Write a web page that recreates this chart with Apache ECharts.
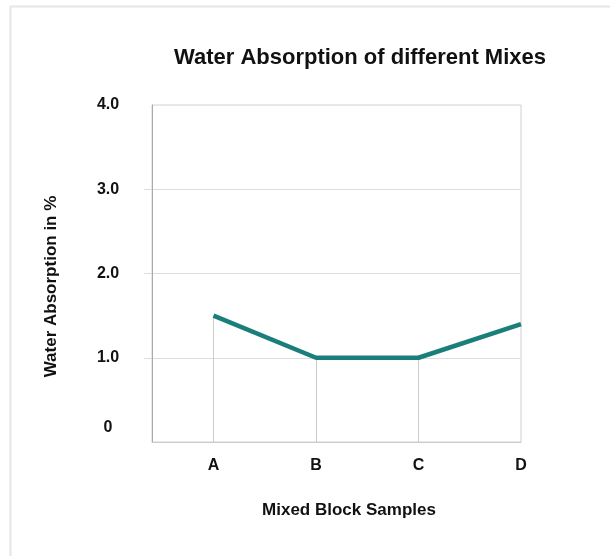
<!DOCTYPE html>
<html>
<head>
<meta charset="utf-8">
<script src="https://cdn.jsdelivr.net/npm/echarts@6/dist/echarts.min.js"></script>
<style>html,body{margin:0;padding:0;background:#fff;}#chart{width:610px;height:556px;}</style>
</head>
<body>
<div id="chart"></div>
<script>
const categories = ['A', 'B', 'C', 'D'];
const positions = [1, 2, 3, 4];
const absorption = [1.5, 1.0, 1.0, 1.4];
const yTicks = [0, 1, 2, 3, 4];

const FONT = '"Liberation Sans", Arial, sans-serif';
const seriesData = positions.map((p, i) => [p, absorption[i]]);
const dropLines = positions.slice(0, 3).map((p, i) => [{ coord: [p, 0] }, { coord: [p, absorption[i]] }]);

const chart = echarts.init(document.getElementById('chart'), null, { renderer: 'canvas' });
chart.setOption({
  backgroundColor: '#ffffff',
  animation: false,
  title: {
    text: 'Water Absorption of different Mixes',
    left: 355,
    textAlign: 'center',
    top: 42,
    textStyle: { fontFamily: FONT, fontWeight: 'bold', fontSize: 22, color: '#111' }
  },
  graphic: [{
    type: 'rect',
    shape: { x: 10.5, y: 6.5, width: 800, height: 800 },
    style: { fill: 'none', stroke: '#e6e6e6', lineWidth: 2 },
    silent: true
  }],
  grid: { left: 152, top: 105, right: 89, bottom: 114, show: true, borderColor: '#d0d0d0', borderWidth: 1 },
  xAxis: {
    type: 'value',
    min: 0.4,
    max: 4,
    name: 'Mixed Block Samples',
    nameLocation: 'middle',
    nameGap: 60,
    nameTextStyle: { fontFamily: FONT, fontWeight: 'bold', fontSize: 17, color: '#111', padding: [0, 0, 0, 25] },
    axisLine: { show: true, lineStyle: { color: '#cccccc', width: 1 } },
    axisTick: { show: false },
    splitLine: { show: false },
    axisLabel: {
      customValues: positions,
      margin: 16,
      fontFamily: FONT, fontWeight: 'bold', fontSize: 16, color: '#111',
      formatter: v => categories[positions.indexOf(Math.round(v))] || ''
    }
  },
  yAxis: {
    type: 'value',
    min: 0,
    max: 4,
    interval: 1,
    name: 'Water Absorption in %',
    nameLocation: 'middle',
    nameGap: 92,
    nameTextStyle: { fontFamily: FONT, fontWeight: 'bold', fontSize: 17, color: '#111', padding: [0, 26, 0, 0] },
    axisLine: { show: true, lineStyle: { color: '#aaaaaa', width: 1 } },
    axisTick: { show: true, customValues: [1, 2, 3], length: 8, lineStyle: { color: '#dddddd' } },
    splitLine: { show: true, lineStyle: { color: '#dddddd', width: 1 } },
    axisLabel: {
      margin: 44,
      align: 'center',
      fontFamily: FONT, fontWeight: 'bold', fontSize: 16, color: '#111',
      formatter: v => v === 0 ? '{z|0}' : v.toFixed(1),
      rich: { z: { fontFamily: FONT, fontWeight: 'bold', fontSize: 16, color: '#111', padding: [0, 0, 28, 0] } }
    }
  },
  series: [{
    type: 'line',
    data: seriesData,
    symbol: 'none',
    z: 5,
    lineStyle: { color: '#1a7f7a', width: 4.5 },
    markLine: {
      silent: true,
      symbol: 'none',
      label: { show: false },
      lineStyle: { color: '#cccccc', width: 1, type: 'solid' },
      z: 1,
      data: dropLines
    }
  }]
});
</script>
</body>
</html>
